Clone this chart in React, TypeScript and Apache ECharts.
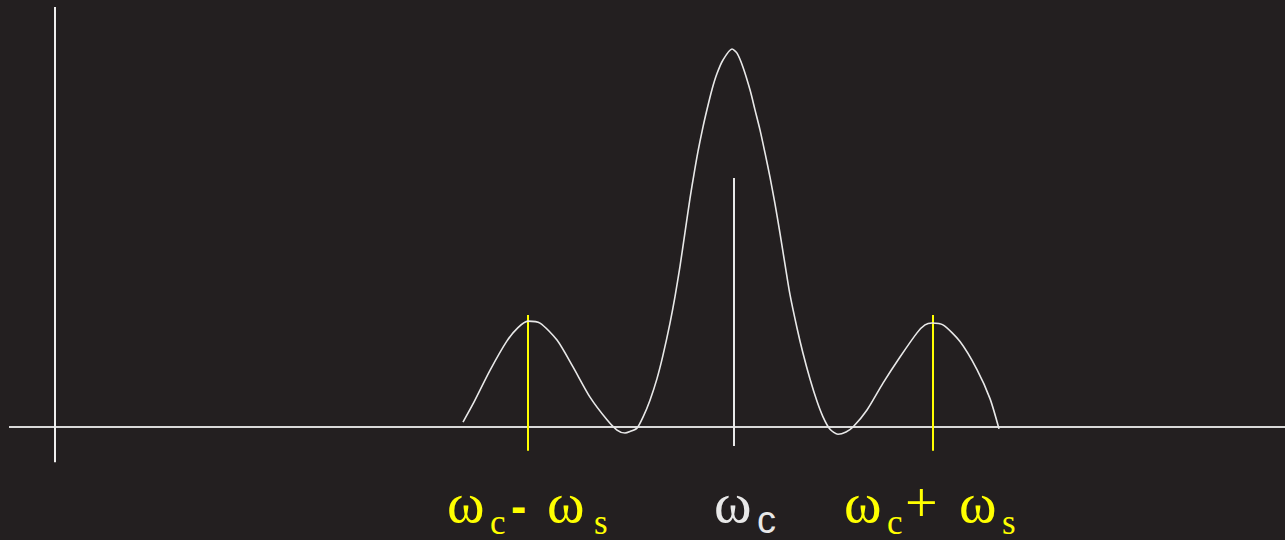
import React, { useEffect, useRef } from "react";
import * as echarts from "echarts";

// Spectrum curve: frequency position (px-scaled units) and normalized amplitude
const spectrumFreq = [463, 473, 490, 507, 518, 528, 540, 557, 573, 590, 607, 617, 625, 630, 637, 643, 650, 657, 663, 670, 675, 680, 685, 690, 694, 698, 703, 707, 712, 717, 723, 732, 737, 743, 750, 755, 760, 765, 770, 775, 780, 785, 790, 797, 803, 810, 817, 823, 830, 838, 846, 853, 867, 883, 900, 917, 925, 932, 943, 960, 977, 990, 999];
const spectrumAmp = [0.013, 0.061, 0.15, 0.228, 0.263, 0.28, 0.275, 0.23, 0.159, 0.079, 0.019, -0.008, -0.016, -0.012, -0.003, 0.026, 0.071, 0.128, 0.19, 0.275, 0.345, 0.425, 0.515, 0.605, 0.669, 0.729, 0.794, 0.84, 0.893, 0.935, 0.971, 1.0, 0.989, 0.952, 0.892, 0.839, 0.786, 0.725, 0.661, 0.59, 0.512, 0.43, 0.35, 0.262, 0.195, 0.127, 0.068, 0.027, -0.006, -0.019, -0.013, 0.0, 0.045, 0.116, 0.185, 0.249, 0.27, 0.275, 0.27, 0.226, 0.152, 0.075, -0.005];

// Axes extents (data units)
const freqAxisRange = [9, 1285];
const ampAxisPos = 55;
const ampAxisRange = [-0.093, 1.111];

// Carrier and sideband markers
const markerFreq = [528, 734, 933];
const markerTop = [0.296, 0.659, 0.296];
const markerBottom = [-0.063, -0.05, -0.063];
const markerColor = ["#ffff00", "#e8e8e8", "#ffff00"];

const BG = "#231f20";
const WHITE = "#e8e8e8";
const YELLOW = "#ffff00";
const SERIF = "Liberation Serif";
const SANS = "Liberation Sans";

function seg(data: number[][], color: string, width: number) {
  return { type: "line", data, symbol: "none", silent: true, clip: false, lineStyle: { color, width }, z: 2 };
}

function txt(text: string, x: number, y: number, size: number, color: string, family: string, weight = "normal") {
  return {
    type: "text", x, y, silent: true,
    style: { text, fill: color, fontSize: size, fontFamily: family, fontWeight: weight, align: "left", verticalAlign: "middle" },
  };
}

export default function App() {
  const ref = useRef<HTMLDivElement>(null);
  useEffect(() => {
    if (!ref.current) return;
    const chart = echarts.init(ref.current, undefined, { renderer: "svg" });
    const curve = spectrumFreq.map((f, i) => [f, spectrumAmp[i]]);
    const markers = markerFreq.map((f, i) => seg([[f, markerBottom[i]], [f, markerTop[i]]], markerColor[i], 2));
    chart.setOption({
      animation: false,
      backgroundColor: BG,
      grid: { left: 0, right: 0, top: 49, bottom: 113 },
      xAxis: { type: "value", min: 0, max: 1285, show: false },
      yAxis: { type: "value", min: 0, max: 1, show: false },
      series: [
        seg([[freqAxisRange[0], 0], [freqAxisRange[1], 0]], "#d9d9d9", 2),
        seg([[ampAxisPos, ampAxisRange[0]], [ampAxisPos, ampAxisRange[1]]], "#eeeeee", 2),
        ...markers,
        { type: "line", data: curve, symbol: "none", smooth: 0.25, silent: true, clip: false, lineStyle: { color: WHITE, width: 1.6 }, z: 3 },
      ],
      graphic: [
        txt("ω", 447, 502, 57, YELLOW, SERIF),
        txt("c", 490, 522, 35, YELLOW, SERIF),
        txt("-", 511, 506, 46, YELLOW, SANS, "bold"),
        txt("ω", 547, 502, 57, YELLOW, SERIF),
        txt("s", 594, 522, 35, YELLOW, SERIF),

        txt("ω", 714, 502, 57, WHITE, SERIF),
        txt("c", 757, 520, 38, WHITE, SANS),

        txt("ω", 844, 502, 57, YELLOW, SERIF),
        txt("c", 887, 522, 35, YELLOW, SERIF),
        txt("+", 905, 502, 58, YELLOW, SERIF),
        txt("ω", 959, 502, 57, YELLOW, SERIF),
        txt("s", 1002, 522, 35, YELLOW, SERIF),
      ],
    });
    return () => chart.dispose();
  }, []);
  return <div ref={ref} style={{ position: "absolute", left: 0, top: 0, width: 1285, height: 540 }} />;
}
